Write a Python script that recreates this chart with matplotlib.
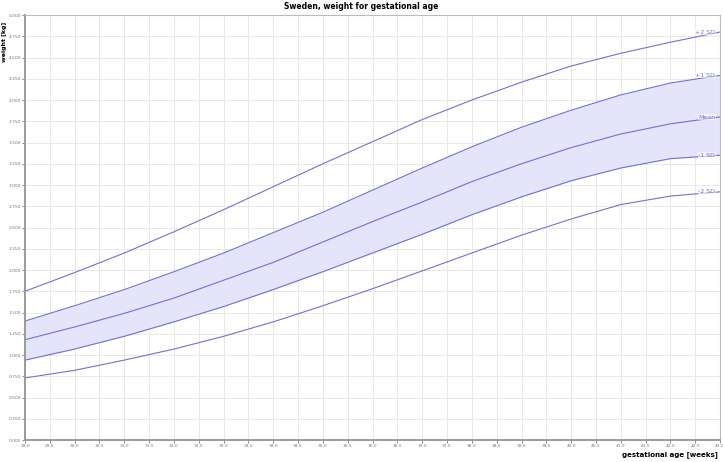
import matplotlib

matplotlib.use("Agg")
import matplotlib.pyplot as plt
import numpy as np

# gestational age [weeks] and weight curves [kg]
weeks = [29, 30, 31, 32, 33, 34, 35, 36, 37, 38, 39, 40, 41, 42, 43]
sd_plus2 = [1.75, 1.97, 2.20, 2.45, 2.71, 2.98, 3.25, 3.51, 3.77, 4.00, 4.21, 4.40, 4.55, 4.68, 4.80]
sd_plus1 = [1.40, 1.58, 1.77, 1.98, 2.20, 2.44, 2.68, 2.94, 3.20, 3.45, 3.68, 3.88, 4.06, 4.20, 4.29]
mean = [1.18, 1.33, 1.49, 1.67, 1.88, 2.09, 2.33, 2.57, 2.80, 3.04, 3.25, 3.44, 3.60, 3.72, 3.80]
sd_minus1 = [0.94, 1.07, 1.22, 1.39, 1.57, 1.77, 1.98, 2.20, 2.42, 2.65, 2.86, 3.05, 3.20, 3.31, 3.35]
sd_minus2 = [0.73, 0.82, 0.94, 1.07, 1.22, 1.39, 1.58, 1.78, 1.99, 2.20, 2.41, 2.60, 2.77, 2.87, 2.92]
curve_labels = ["+2 SD", "+1 SD", "Mean", "-1 SD", "-2 SD"]

x_ticks = np.arange(29, 43.01, 0.5)
y_ticks = np.arange(0, 5.001, 0.25)

line_c = "#7070d8"
fig = plt.figure(figsize=(7.23, 4.62), dpi=100)
ax = fig.add_axes([0.0346, 0.0476, 0.9614, 0.9199])

ax.fill_between(weeks, sd_minus1, sd_plus1, color="#e4e4fb", lw=0)
for ys in (sd_plus2, sd_plus1, mean, sd_minus1, sd_minus2):
    ax.plot(weeks, ys, color=line_c, lw=0.8)
for ys, lab in zip((sd_plus2, sd_plus1, mean, sd_minus1, sd_minus2), curve_labels):
    ax.text(weeks[-1] - 0.1, ys[-1], lab, color=line_c, fontsize=4.5,
            ha="right", va="center", bbox=dict(fc="white", ec="none", pad=0.3, alpha=0.6))

ax.set_xlim(29, 43)
ax.set_ylim(0, 5)
ax.set_xticks(x_ticks)
ax.set_yticks(y_ticks)
ax.set_xticklabels([f"{v:.1f}" for v in x_ticks])
ax.set_yticklabels([f"{v:.3f}" for v in y_ticks])
ax.tick_params(labelsize=3.2, colors="#777777", length=2, width=0.6, pad=1)
ax.grid(color="#e8e8e8", lw=0.7)
ax.set_axisbelow(True)
for s in ("left", "bottom"):
    ax.spines[s].set_color("#9a9a9a")
    ax.spines[s].set_linewidth(1.4)
for s in ("top", "right"):
    ax.spines[s].set_color("#bbbbbb")
    ax.spines[s].set_linewidth(0.8)

fig.text(0.5, 0.985, "Sweden, weight for gestational age", ha="center", va="center",
         fontsize=5.5, fontweight="bold")
fig.text(0.006, 0.91, "weight [kg]", rotation=90, ha="center", va="center",
         fontsize=4.5, fontweight="bold")
fig.text(0.993, 0.016, "gestational age [weeks]", ha="right", va="center",
         fontsize=5, fontweight="bold")

fig.savefig("out.png", dpi=100)
